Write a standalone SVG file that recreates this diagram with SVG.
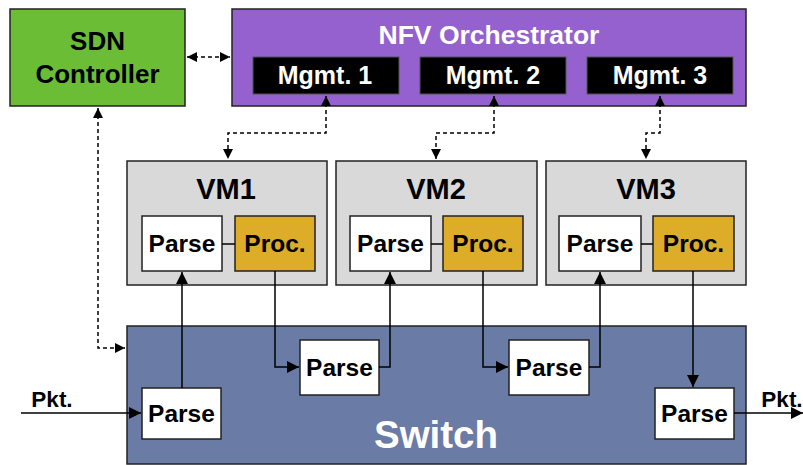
<svg xmlns="http://www.w3.org/2000/svg" width="803" height="465" viewBox="0 0 803 465">
  <defs>
    <marker id="arr" viewBox="0 0 10 10" refX="10" refY="5" markerWidth="10" markerHeight="10" markerUnits="userSpaceOnUse" orient="auto-start-reverse">
      <path d="M0,0 L10,5 L0,10 z" fill="#000"/>
    </marker>
    <marker id="arrL" viewBox="0 0 12 12" refX="12" refY="6" markerWidth="12" markerHeight="12" markerUnits="userSpaceOnUse" orient="auto-start-reverse">
      <path d="M0,0 L12,6 L0,12 z" fill="#000"/>
    </marker>
  </defs>
  <style>
    text { font-family: "Liberation Sans", Arial, sans-serif; font-weight: bold; text-anchor: middle; }
    .box { stroke: #222; stroke-width: 1.5; }
    .sdn { fill: #6BBD35; }
    .nfv { fill: #9461CF; }
    .mgmt { fill: #000; stroke: #555; stroke-width: 1; }
    .vm { fill: #D9D9D9; }
    .parse { fill: #fff; }
    .proc { fill: #DDAC29; }
    .sw { fill: #6A7BA5; }
    .sdnt { font-size: 26px; fill: #000; }
    .nfvt { font-size: 26.5px; fill: #fff; }
    .mg { font-size: 25px; fill: #fff; }
    .vmt { font-size: 29px; fill: #000; }
    .pt { font-size: 24.5px; fill: #000; }
    .pkt { font-size: 22.5px; fill: #000; }
    .swt { font-size: 38.5px; fill: #fff; }
    .ln { fill: none; stroke: #000; stroke-width: 1.5; }
    .dash { fill: none; stroke: #000; stroke-width: 1.5; stroke-dasharray: 4 3; }
  </style>

  <g id="sdn-controller">
    <rect class="box sdn" x="10" y="9" width="175" height="97"/>
    <text class="sdnt" x="97.5" y="50">SDN</text>
    <text class="sdnt" x="97.5" y="83">Controller</text>
  </g>

  <g id="nfv-orchestrator">
    <rect class="box nfv" x="232" y="9" width="514" height="97"/>
    <text class="nfvt" x="489" y="44">NFV Orchestrator</text>
  </g>
  <g id="mgmt1">
    <rect class="mgmt" x="253" y="57" width="146" height="37"/>
    <text class="mg" x="325" y="84">Mgmt. 1</text>
  </g>
  <g id="mgmt2">
    <rect class="mgmt" x="420" y="57" width="146" height="37"/>
    <text class="mg" x="493" y="84">Mgmt. 2</text>
  </g>
  <g id="mgmt3">
    <rect class="mgmt" x="587" y="57" width="146" height="37"/>
    <text class="mg" x="660" y="84">Mgmt. 3</text>
  </g>

  <g id="vm1">
    <rect class="box vm" x="127" y="161" width="200" height="124"/>
    <text class="vmt" x="226" y="199">VM1</text>
  </g>
  <g id="vm1-parse">
    <rect class="box parse" x="142" y="216" width="80" height="55"/>
    <text class="pt" x="182" y="252">Parse</text>
  </g>
  <g id="vm1-proc">
    <rect class="box proc" x="235" y="216" width="80" height="55"/>
    <text class="pt" x="275" y="252">Proc.</text>
  </g>

  <g id="vm2">
    <rect class="box vm" x="336" y="161" width="201" height="124"/>
    <text class="vmt" x="436" y="199">VM2</text>
  </g>
  <g id="vm2-parse">
    <rect class="box parse" x="350" y="216" width="81" height="55"/>
    <text class="pt" x="390.5" y="252">Parse</text>
  </g>
  <g id="vm2-proc">
    <rect class="box proc" x="443" y="216" width="80" height="55"/>
    <text class="pt" x="483" y="252">Proc.</text>
  </g>

  <g id="vm3">
    <rect class="box vm" x="546" y="161" width="200" height="124"/>
    <text class="vmt" x="646" y="199">VM3</text>
  </g>
  <g id="vm3-parse">
    <rect class="box parse" x="559" y="216" width="82" height="55"/>
    <text class="pt" x="600" y="252">Parse</text>
  </g>
  <g id="vm3-proc">
    <rect class="box proc" x="653" y="216" width="81" height="55"/>
    <text class="pt" x="693.5" y="252">Proc.</text>
  </g>

  <g id="switch">
    <rect class="box sw" x="127" y="326" width="619" height="138"/>
    <text class="swt" x="436" y="448">Switch</text>
  </g>
  <g id="sw-parse-in">
    <rect class="box parse" x="142" y="388" width="79" height="51"/>
    <text class="pt" x="181.5" y="422">Parse</text>
  </g>
  <g id="sw-parse-2">
    <rect class="box parse" x="300" y="340" width="79" height="55"/>
    <text class="pt" x="339.5" y="376">Parse</text>
  </g>
  <g id="sw-parse-3">
    <rect class="box parse" x="509" y="340" width="80" height="55"/>
    <text class="pt" x="549" y="376">Parse</text>
  </g>
  <g id="sw-parse-out">
    <rect class="box parse" x="655" y="388" width="79" height="51"/>
    <text class="pt" x="694.5" y="422">Parse</text>
  </g>

  <g id="labels">
    <text class="pkt" x="52" y="407">Pkt.</text>
    <text class="pkt" x="782" y="407">Pkt.</text>
  </g>

  <g id="connectors">
    <!-- control plane (dashed) -->
    <path class="dash" d="M187,57 H230" marker-start="url(#arr)" marker-end="url(#arr)"/>
    <path class="dash" d="M98,108 V348 H125" marker-start="url(#arr)" marker-end="url(#arr)"/>
    <path class="dash" d="M326,96 V133 H228 V159" marker-start="url(#arr)" marker-end="url(#arr)"/>
    <path class="dash" d="M494,96 V133 H436 V159" marker-start="url(#arr)" marker-end="url(#arr)"/>
    <path class="dash" d="M660,96 V133 H646 V159" marker-start="url(#arr)" marker-end="url(#arr)"/>
    <!-- VM internal links -->
    <path class="ln" d="M222,244 H235"/>
    <path class="ln" d="M431,244 H443"/>
    <path class="ln" d="M641,244 H653"/>
    <!-- packet path -->
    <path class="ln" d="M21,413 H141" marker-end="url(#arrL)"/>
    <path class="ln" d="M182,388 V272" marker-end="url(#arrL)"/>
    <path class="ln" d="M275,271 V367 H299" marker-end="url(#arrL)"/>
    <path class="ln" d="M379,367 H390 V272" marker-end="url(#arrL)"/>
    <path class="ln" d="M483,271 V367 H508" marker-end="url(#arrL)"/>
    <path class="ln" d="M589,367 H600 V272" marker-end="url(#arrL)"/>
    <path class="ln" d="M693,271 V387" marker-end="url(#arrL)"/>
    <path class="ln" d="M734,413 H803" marker-end="url(#arrL)"/>
  </g>
</svg>
